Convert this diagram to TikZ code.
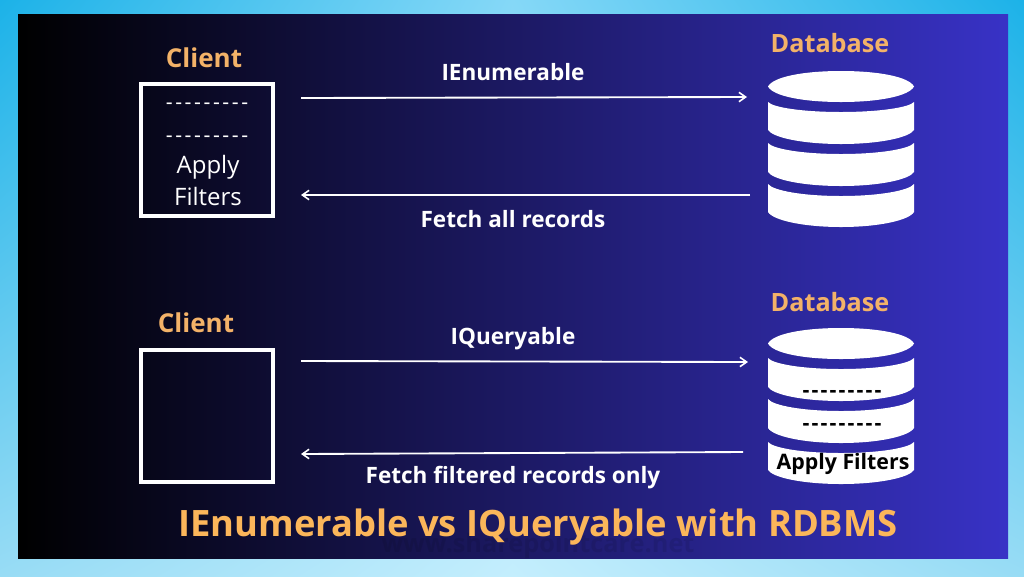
\documentclass[tikz,border=0pt]{standalone}
\usepackage{fontspec}
\setmainfont{Open Sans}
\usetikzlibrary{arrows.meta,shadings}
\definecolor{labelorange}{HTML}{F3B268}
\definecolor{titleorange}{HTML}{FBB65A}
\definecolor{panelblue}{HTML}{3832C6}
\definecolor{bgTE}{HTML}{1CB2E8}
\definecolor{bgTC}{HTML}{85D8F7}
\definecolor{bgBE}{HTML}{98DCF5}
\definecolor{bgBC}{HTML}{C4EEFD}
\newcommand{\dbtop}[2]{%
  \fill[white] (768,#1) .. controls (773,{#1-0.62*(#1-#2)}) and (803,#2) .. (841,#2)
    .. controls (879,#2) and (909,{#1-0.62*(#1-#2)}) .. (914,#1)
    .. controls (909,{#1+0.62*(#1-#2)}) and (879,{2*#1-#2}) .. (841,{2*#1-#2})
    .. controls (803,{2*#1-#2}) and (773,{#1+0.62*(#1-#2)}) .. cycle;}
\newcommand{\dbseg}[4]{%
  \fill[white] (768,#1) .. controls (773,{#1+0.55*(#2-#1)}) and (803,#2) .. (841,#2)
    .. controls (879,#2) and (909,{#1+0.55*(#2-#1)}) .. (914,#1)
    -- (914,#3) .. controls (909,{#3+0.55*(#4-#3)}) and (879,#4) .. (841,#4)
    .. controls (803,#4) and (773,{#3+0.55*(#4-#3)}) .. (768,#3) -- cycle;}
\newcommand{\dashrow}{{-}{-}{-}{-}{-}{-}{-}{-}{-}}
\tikzset{
  x=0.75pt,y=-0.75pt,
  heading/.style={font=\fontsize{19.5}{23}\selectfont\bfseries,text=labelorange,inner sep=0pt},
  dbheading/.style={font=\fontsize{18.9}{23}\selectfont\bfseries,text=labelorange,inner sep=0pt},
  flowlabel/.style={font=\fontsize{16.9}{20}\selectfont\bfseries,text=white,inner sep=0pt},
  clientbox/.style={draw=white,line width=3pt,minimum size=99pt,inner sep=0pt},
  flow/.style={draw=white,line width=1.4pt,-{Straight Barb[length=5pt,width=7pt,line width=1.2pt]}},
  clienttext/.style={font=\fontsize{18}{21}\selectfont,text=white,inner sep=0pt},
  lightdash/.style={font=\fontsize{16}{18}\selectfont\addfontfeature{LetterSpace=12},text=white,inner sep=0pt},
  darkdash/.style={font=\fontsize{16}{18}\selectfont\bfseries\addfontfeature{LetterSpace=10},text=black,inner sep=0pt},
}
\begin{document}
\begin{tikzpicture}
\useasboundingbox (0,0) rectangle (1024,576);
% backdrop and panel
\shade[upper left=bgTE,upper right=bgTC,lower left=bgBE,lower right=bgBC] (0,0) rectangle (512.5,576);
\shade[upper left=bgTC,upper right=bgTE,lower left=bgBC,lower right=bgBE] (512,0) rectangle (1024,576);
\shade[left color=black,right color=panelblue,middle color=panelblue!50!black] (18,14) rectangle (1008,558);
% watermark
\node[font=\fontsize{19}{23}\selectfont\bfseries,text=black,opacity=0.09,inner sep=0pt] (mark) at (538,546) {www.sharepointcare.net};
% upper row
\node[heading] (clientA) at (204,58) {Client};
\node[clientbox] (boxA) at (207,150) {};
\node[lightdash] (dashA1) at (207,106) {\dashrow};
\node[lightdash] (dashA2) at (207,139) {\dashrow};
\node[clienttext] (applyA) at (208,167) {Apply};
\node[clienttext] (filtA) at (208,196) {Filters};
\node[dbheading] (dbA) at (830,43) {Database};
\dbtop{86.5}{71}
\dbseg{102}{112}{130}{144}
\dbseg{143}{154}{172}{186}
\dbseg{184}{196}{212}{227}
\coordinate (a1s) at (301,98); \coordinate (a1e) at (747,97);
\coordinate (a2s) at (750,195); \coordinate (a2e) at (301,195);
\draw[flow] (a1s) -- (a1e);
\draw[flow] (a2s) -- (a2e);
\node[flowlabel] (lab1) at (513,72) {IEnumerable};
\node[flowlabel] (lab2) at (513,219) {Fetch all records};
% lower row
\node[heading] (clientB) at (196,323) {Client};
\node[clientbox] (boxB) at (207,416) {};
\node[dbheading] (dbB) at (830,302) {Database};
\dbtop{343.5}{328}
\dbseg{358}{369}{387}{401}
\dbseg{399}{411}{428}{443}
\dbseg{442}{453}{470}{484}
\node[darkdash] (dashB1) at (842,394) {\dashrow};
\node[darkdash] (dashB2) at (842,427) {\dashrow};
\node[font=\fontsize{16}{19}\selectfont\bfseries,text=black,inner sep=0pt] (applyB) at (843,464) {Apply Filters};
\coordinate (a3s) at (301,361); \coordinate (a3e) at (748,362);
\coordinate (a4s) at (743,452); \coordinate (a4e) at (301,454);
\draw[flow] (a3s) -- (a3e);
\draw[flow] (a4s) -- (a4e);
\node[flowlabel] (lab3) at (513,339) {IQueryable};
\node[flowlabel] (lab4) at (513,478) {Fetch filtered records only};
% title
\node[font=\fontsize{27.25}{32}\selectfont\bfseries,text=titleorange,inner sep=0pt] (title) at (538,527) {IEnumerable vs IQueryable with RDBMS};
\end{tikzpicture}
\end{document}
